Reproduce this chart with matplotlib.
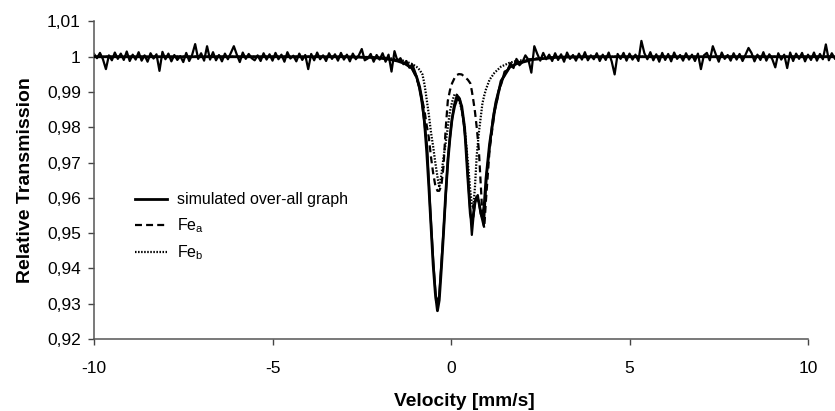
import numpy as np
import matplotlib
matplotlib.use("Agg")
import matplotlib.pyplot as plt

plt.rcParams.update({
    "font.family": "Liberation Sans",
    "mathtext.fontset": "custom",
    "mathtext.rm": "Liberation Sans",
    "lines.scale_dashes": False,
    "axes.unicode_minus": False,
})

# Measured spectrum: 12 channels per mm/s starting at -10 mm/s
V_START, CH_PER_MM = -10.0, 12
measured = [
    1.0008, 0.9996, 1.0011, 0.9993, 0.9965, 1.0004, 0.9990, 1.0012, 0.9994, 1.0009, 0.9991, 1.0015,
    0.9988, 1.0006, 0.9992, 1.0013, 0.9989, 1.0004, 0.9986, 1.0010, 0.9995, 1.0007, 0.9960, 1.0014,
    0.9993, 1.0009, 0.9987, 1.0005, 0.9991, 1.0002, 0.9985, 1.0011, 0.9988, 1.0006, 1.0036, 0.9994,
    1.0010, 0.9989, 1.0030, 0.9992, 1.0013, 0.9990, 1.0005, 0.9987, 1.0009, 0.9993, 1.0011, 1.0030,
    1.0006, 0.9985, 1.0012, 0.9994, 1.0008, 0.9996, 0.9990, 1.0004, 0.9988, 1.0010, 0.9992, 1.0007,
    0.9989, 1.0011, 0.9993, 1.0006, 0.9986, 1.0013, 0.9995, 1.0003, 0.9987, 1.0009, 0.9991, 1.0005,
    0.9965, 1.0008, 0.9990, 1.0012, 0.9993, 1.0004, 0.9988, 1.0010, 0.9994, 1.0007, 0.9989, 1.0011,
    0.9992, 1.0006, 0.9987, 1.0009, 0.9993, 1.0004, 1.0022, 0.9990, 0.9995, 1.0008, 0.9986, 1.0005,
    0.9992, 1.0010, 0.9986, 1.0006, 0.9958, 1.0016, 0.9988, 0.9996, 0.9979, 0.9988, 0.9969, 0.9978,
    0.9955, 0.9925, 0.9880, 0.9818, 0.9742, 0.9570, 0.9425, 0.9305, 0.9320, 0.9445, 0.9575, 0.9718,
    0.9800, 0.9862, 0.9892, 0.9880, 0.9830, 0.9755, 0.9620, 0.9495, 0.9590, 0.9608, 0.9555, 0.9520,
    0.9668, 0.9745, 0.9822, 0.9872, 0.9905, 0.9925, 0.9958, 0.9962, 0.9982, 0.9968, 0.9994, 0.9976,
    0.9985, 1.0004, 0.9992, 0.9955, 1.0030, 1.0008, 0.9989, 1.0011, 0.9993, 1.0006, 0.9988, 1.0010,
    0.9991, 1.0007, 0.9986, 1.0012, 0.9994, 1.0005, 0.9989, 1.0009, 0.9992, 1.0013, 0.9990, 1.0004,
    0.9993, 1.0010, 0.9988, 1.0006, 0.9991, 1.0012, 0.9987, 0.9950, 1.0008, 0.9994, 1.0011, 0.9989,
    1.0009, 0.9992, 1.0006, 0.9988, 1.0045, 1.0010, 0.9993, 1.0013, 0.9990, 1.0007, 0.9986, 1.0011,
    0.9991, 1.0008, 0.9987, 1.0012, 0.9994, 1.0005, 0.9989, 1.0010, 0.9992, 1.0006, 0.9988, 1.0009,
    0.9965, 1.0004, 1.0011, 0.9990, 1.0030, 1.0007, 0.9986, 1.0012, 0.9994, 1.0005, 0.9989, 1.0010,
    0.9992, 1.0008, 0.9988, 1.0006, 1.0025, 1.0011, 0.9987, 1.0006, 0.9991, 1.0013, 0.9989, 1.0007,
    0.9993, 0.9970, 1.0010, 0.9992, 1.0006, 0.9968, 1.0012, 0.9988, 1.0009, 0.9994, 1.0011, 0.9987,
    1.0006, 0.9991, 1.0012, 0.9989, 1.0008, 0.9993, 1.0035, 0.9990, 1.0010, 0.9995,
]

# Fitted curves, sampled at these velocities (mm/s)
fit_v = [-10, -3, -2.2, -1.8, -1.5, -1.3, -1.1, -0.97, -0.88,
         -0.8, -0.74, -0.68, -0.62, -0.56, -0.5, -0.44, -0.38, -0.33, -0.27, -0.21, -0.15, -0.09, -0.03,
         0.03, 0.1, 0.16, 0.22, 0.3, 0.38, 0.47, 0.54, 0.58, 0.62, 0.67, 0.72, 0.78, 0.84, 0.88, 0.93, 0.98,
         1.08, 1.22, 1.4, 1.64, 1.83, 2.28, 3, 4, 10.75]
fit_total = [1.0, 1.0, 0.9998, 0.9994, 0.9988, 0.9981, 0.9968, 0.9945, 0.9915,
             0.987, 0.981, 0.973, 0.963, 0.952, 0.941, 0.933, 0.928, 0.931, 0.940, 0.950, 0.961, 0.970, 0.977,
             0.9825, 0.986, 0.9878, 0.9884, 0.986, 0.980, 0.9658, 0.9555, 0.9536, 0.9548, 0.9585, 0.9603,
             0.9588, 0.9555, 0.9545, 0.958, 0.9655,
             0.9753, 0.9847, 0.9931, 0.997, 0.998, 0.9992, 0.9999, 1.0, 1.0]
fit_fe_a = [1.0, 1.0, 0.9998, 0.9995, 0.999, 0.9982, 0.997, 0.994, 0.991,
            0.9875, 0.9845, 0.9805, 0.977, 0.9715, 0.967, 0.9635, 0.962, 0.962, 0.9635, 0.969, 0.9795, 0.9875, 0.9905,
            0.9925, 0.994, 0.9948, 0.9951, 0.995, 0.9943, 0.9935, 0.9925, 0.9905, 0.988, 0.9845, 0.980,
            0.9735, 0.9625, 0.955, 0.9515, 0.9595,
            0.9735, 0.9845, 0.993, 0.9972, 0.9983, 0.9994, 0.9999, 1.0, 1.0]
fit_fe_b = [1.0, 1.0, 0.9999, 0.9997, 0.9993, 0.9988, 0.998, 0.9972, 0.9963,
            0.995, 0.992, 0.9878, 0.9835, 0.9785, 0.9745, 0.970, 0.966, 0.963, 0.9665, 0.9715, 0.9755, 0.980, 0.9845,
            0.9872, 0.9894, 0.9892, 0.9878, 0.985, 0.980, 0.9705, 0.962, 0.9585, 0.957, 0.963, 0.972,
            0.9785, 0.9835, 0.9868, 0.989, 0.9908,
            0.9935, 0.9955, 0.9972, 0.9983, 0.9988, 0.9994, 0.9999, 1.0, 1.0]

y_ticks = [0.92, 0.93, 0.94, 0.95, 0.96, 0.97, 0.98, 0.99, 1.00, 1.01]
y_tick_labels = ["0,92", "0,93", "0,94", "0,95", "0,96", "0,97", "0,98", "0,99", "1", "1,01"]
x_ticks = [-10, -5, 0, 5, 10]

vel = V_START + np.arange(len(measured)) / CH_PER_MM

fig = plt.figure(figsize=(8.35, 4.11), dpi=100)
ax = fig.add_axes([0.1126, 0.1752, 0.8874, 0.7725])

ax.plot(vel, measured, color="black", lw=1.6, zorder=2)
ax.plot(fit_v, fit_total, color="black", lw=2.0, zorder=3, label="simulated over-all graph")
ax.plot(fit_v, fit_fe_a, color="black", lw=1.6, dashes=(5, 3), zorder=4, label=r"Fe$_\mathregular{a}$")
ax.plot(fit_v, fit_fe_b, color="black", lw=1.6, dashes=(1.1, 1.1), zorder=4, label=r"Fe$_\mathregular{b}$")

ax.set_xlim(-10, 10.756)
ax.set_ylim(0.92, 1.01)
ax.set_xticks(x_ticks)
ax.set_yticks(y_ticks)
ax.set_yticklabels(y_tick_labels)
ax.tick_params(labelsize=12.5, length=4, width=1, color="#444444")
ax.tick_params(axis="x", pad=12)
ax.tick_params(axis="y", pad=5.5)

for side in ("top", "right"):
    ax.spines[side].set_visible(False)
for side in ("left", "bottom"):
    ax.spines[side].set_color("#555555")
    ax.spines[side].set_linewidth(1.1)
ax.spines["bottom"].set_bounds(-10, 10)

ax.set_xlabel("Velocity [mm/s]", fontsize=13.8, fontweight="bold", labelpad=12)
ax.set_ylabel("Relative Transmission", fontsize=14, fontweight="bold", labelpad=9)

ax.legend(loc="upper left", bbox_to_anchor=(0.055, 0.462), frameon=False, fontsize=11.5,
          handlelength=2.0, handletextpad=0.65, labelspacing=0.55, borderpad=0, borderaxespad=0)

fig.savefig("out.png", dpi=100)
